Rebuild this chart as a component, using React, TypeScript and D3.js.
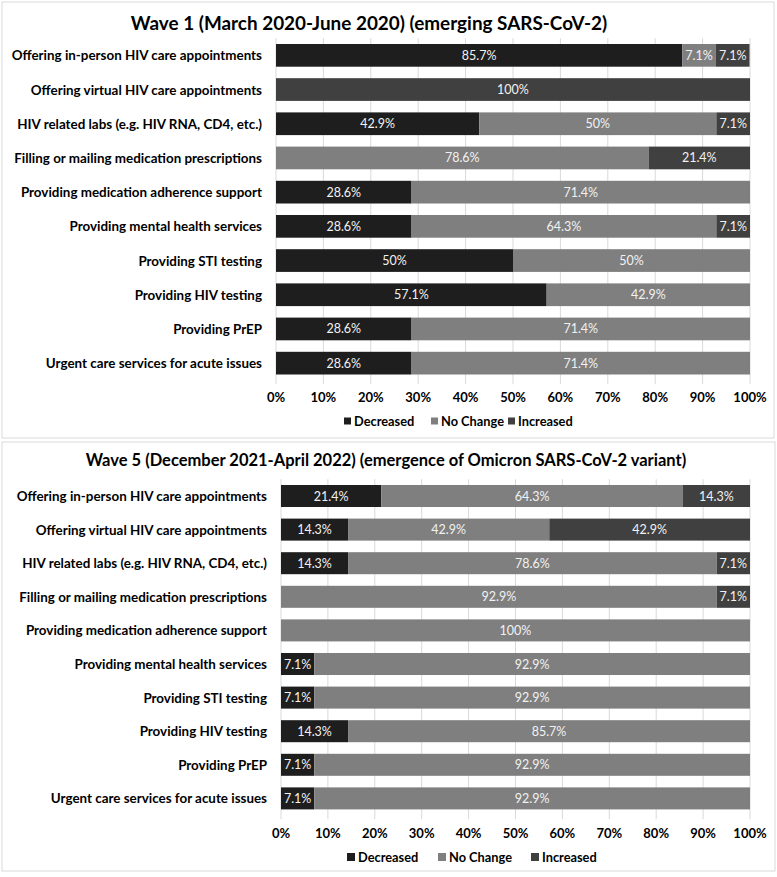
import React from "react";
import * as d3 from "d3";

const categories = [
  "Offering in-person HIV care appointments",
  "Offering virtual HIV care appointments",
  "HIV related labs (e.g. HIV RNA, CD4, etc.)",
  "Filling or mailing medication prescriptions",
  "Providing medication adherence support",
  "Providing mental health services",
  "Providing STI testing",
  "Providing HIV testing",
  "Providing PrEP",
  "Urgent care services for acute issues",
];

const seriesNames = ["Decreased", "No Change", "Increased"];

const wave1Decreased = [85.7, 0, 42.9, 0, 28.6, 28.6, 50, 57.1, 28.6, 28.6];
const wave1NoChange = [7.1, 0, 50, 78.6, 71.4, 64.3, 50, 42.9, 71.4, 71.4];
const wave1Increased = [7.1, 100, 7.1, 21.4, 0, 7.1, 0, 0, 0, 0];

const wave5Decreased = [21.4, 14.3, 14.3, 0, 0, 7.1, 7.1, 14.3, 7.1, 7.1];
const wave5NoChange = [64.3, 42.9, 78.6, 92.9, 100, 92.9, 92.9, 85.7, 92.9, 92.9];
const wave5Increased = [14.3, 42.9, 7.1, 7.1, 0, 0, 0, 0, 0, 0];

const ticks = [0, 10, 20, 30, 40, 50, 60, 70, 80, 90, 100];

const titles = [
  "Wave 1 (March 2020-June 2020) (emerging SARS-CoV-2)",
  "Wave 5 (December 2021-April 2022) (emergence of Omicron SARS-CoV-2 variant)",
];

const colors = ["#1e1e1e", "#7f7f7f", "#404040"];
const FONT = "Lato, 'Open Sans', sans-serif";

type PanelCfg = {
  box: [number, number, number, number];
  x0: number;
  x1: number;
  top: number;
  bottom: number;
  pad: number;
  titleX: number;
  titleY: number;
  titleSize: number;
  tickY: number;
  legendY: number;
  legendX: number[];
  legendSq: number;
};

const fmt = (v: number) => (Number.isInteger(v) ? `${v}%` : `${v.toFixed(1)}%`);

function Panel({ cfg, title, data }: { cfg: PanelCfg; title: string; data: number[][] }) {
  const x = d3.scaleLinear().domain([0, 100]).range([cfg.x0, cfg.x1]).clamp(true);
  const y = d3
    .scaleBand<string>()
    .domain(categories)
    .range([cfg.top, cfg.bottom])
    .paddingInner(cfg.pad)
    .paddingOuter(cfg.pad / 2);
  const rows = categories.map((c, i) => {
    let acc = 0;
    return data.map((s, k) => {
      const v = s[i];
      const seg = { k, v, start: acc, end: acc + v };
      acc += v;
      return seg;
    });
  });
  const [bx, by, bw, bh] = cfg.box;
  return (
    <g>
      <rect x={bx} y={by} width={bw} height={bh} fill="#fff" stroke="#d9d9d9" strokeWidth={1} />
      <text x={cfg.titleX} y={cfg.titleY} textAnchor="middle" dominantBaseline="central" fontFamily={FONT} fontWeight={700} fontSize={cfg.titleSize} fill="#000">
        {title}
      </text>
      {ticks.map((t) => (
        <line key={t} x1={x(t)} x2={x(t)} y1={cfg.top} y2={cfg.bottom + 4} stroke="#d9d9d9" strokeWidth={1} />
      ))}
      {rows.map((segs, i) => (
        <g key={i}>
          {segs
            .filter((s) => s.v > 0)
            .map((s) => (
              <g key={s.k}>
                <rect x={x(s.start)} y={y(categories[i])} width={x(s.end) - x(s.start)} height={y.bandwidth()} fill={colors[s.k]} />
                <text x={(x(s.start) + x(s.end)) / 2} y={(y(categories[i]) as number) + y.bandwidth() / 2} textAnchor="middle" dominantBaseline="central" fontFamily={FONT} fontSize={12.5} fill="#f2f2f2">
                  {fmt(s.v)}
                </text>
              </g>
            ))}
          <text x={cfg.x0 - 14} y={(y(categories[i]) as number) + y.bandwidth() / 2} textAnchor="end" dominantBaseline="central" fontFamily={FONT} fontWeight={700} fontSize={13.4} fill="#000">
            {categories[i]}
          </text>
        </g>
      ))}
      {ticks.map((t) => (
        <text key={t} x={x(t)} y={cfg.tickY} textAnchor="middle" dominantBaseline="central" fontFamily={FONT} fontWeight={700} fontSize={13} fill="#000">
          {`${t}%`}
        </text>
      ))}
      {seriesNames.map((n, k) => (
        <g key={n}>
          <rect x={cfg.legendX[k]} y={cfg.legendY - cfg.legendSq / 2} width={cfg.legendSq} height={cfg.legendSq} fill={colors[k]} />
          <text x={cfg.legendX[k] + cfg.legendSq + 3} y={cfg.legendY} dominantBaseline="central" fontFamily={FONT} fontWeight={700} fontSize={12.8} fill="#000">
            {n}
          </text>
        </g>
      ))}
    </g>
  );
}

const panel1: PanelCfg = {
  box: [2, 2, 772, 436],
  x0: 276,
  x1: 750,
  top: 38.25,
  bottom: 380.25,
  pad: 0.336,
  titleX: 369,
  titleY: 22,
  titleSize: 18.9,
  tickY: 397,
  legendY: 421,
  legendX: [344, 431, 508],
  legendSq: 7,
};

const panel2: PanelCfg = {
  box: [2, 442, 773, 429],
  x0: 281,
  x1: 750,
  top: 479.2,
  bottom: 815.2,
  pad: 0.345,
  titleX: 386,
  titleY: 460,
  titleSize: 16.5,
  tickY: 833,
  legendY: 857,
  legendX: [347, 438, 531],
  legendSq: 8,
};

export default function App() {
  return (
    <svg width={777} height={877} style={{ position: "absolute", left: 0, top: 0, background: "#fff" }}>
      <rect x={0} y={0} width={777} height={877} fill="#fff" />
      <Panel cfg={panel1} title={titles[0]} data={[wave1Decreased, wave1NoChange, wave1Increased]} />
      <Panel cfg={panel2} title={titles[1]} data={[wave5Decreased, wave5NoChange, wave5Increased]} />
    </svg>
  );
}
